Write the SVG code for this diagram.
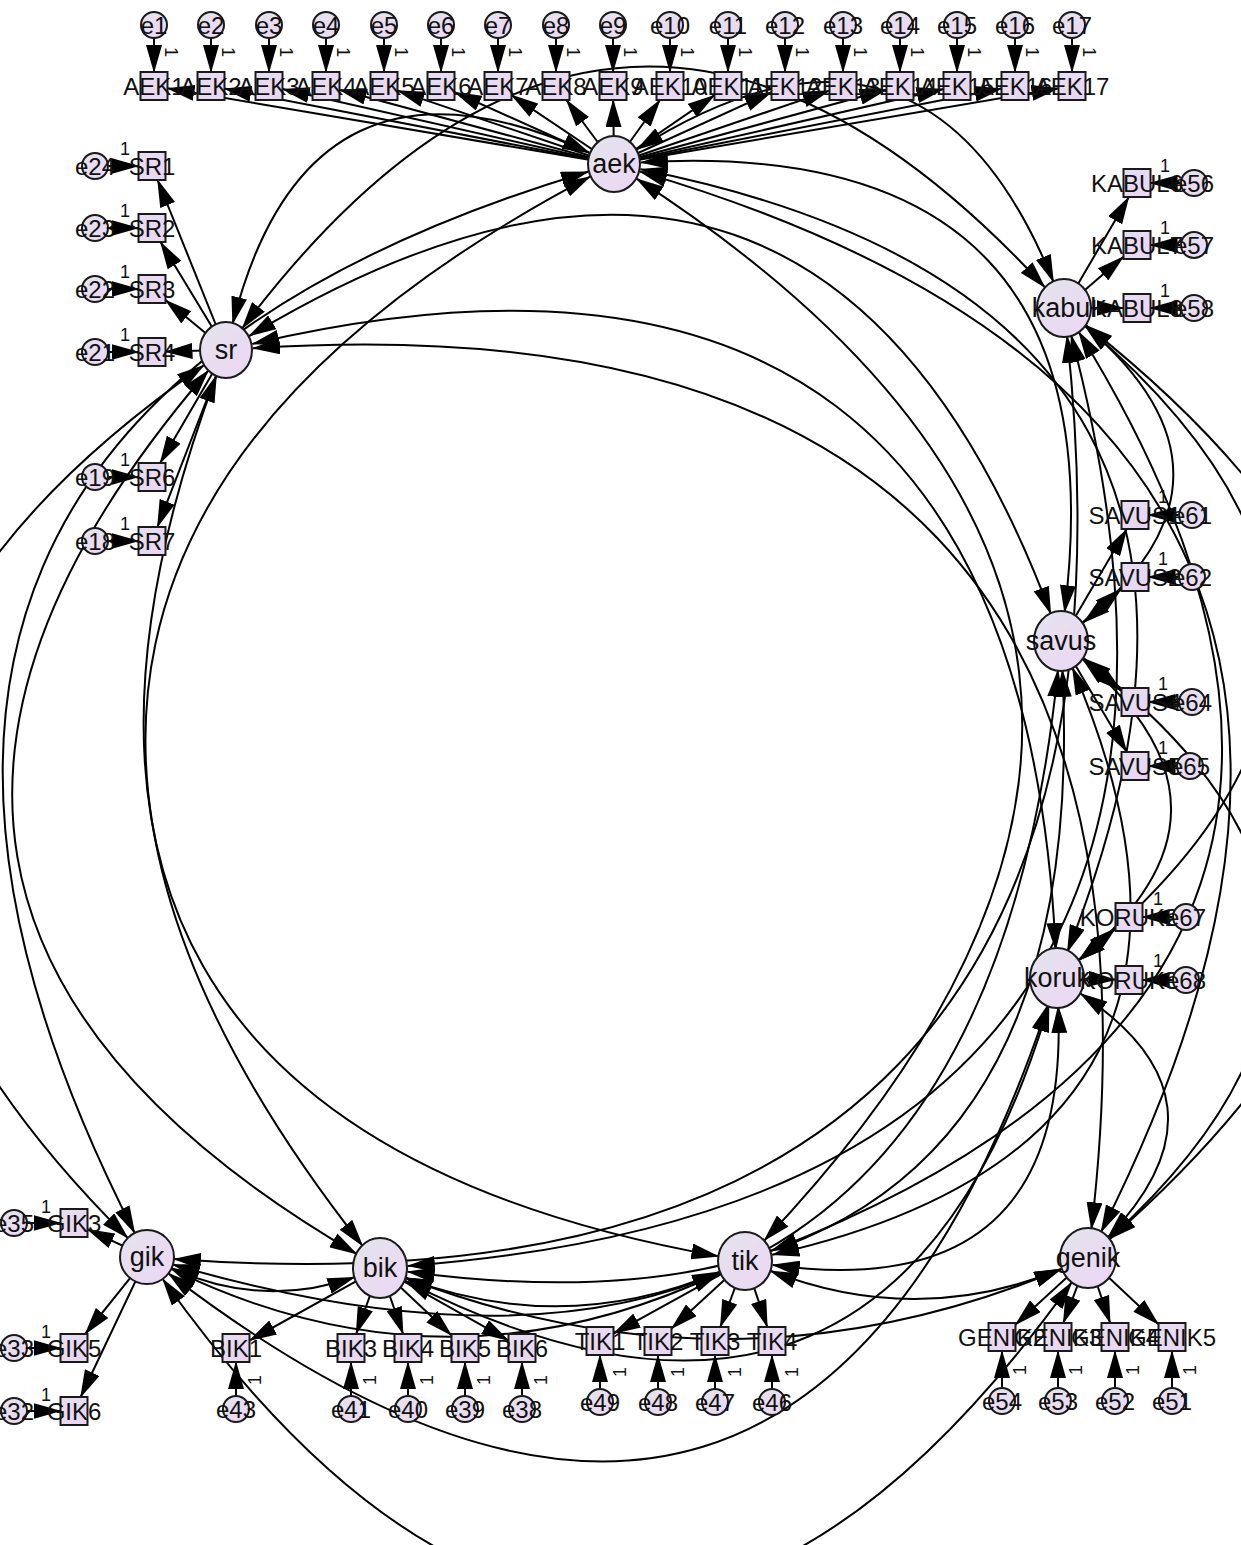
<svg xmlns="http://www.w3.org/2000/svg" width="1241" height="1545" viewBox="0 0 1241 1545">
<defs>
<linearGradient id="g" x1="0" y1="0" x2="1" y2="1"><stop offset="0" stop-color="#e4e4ec"/><stop offset="1" stop-color="#ecd6f4"/></linearGradient>
<linearGradient id="gb" x1="0" y1="0" x2="1" y2="1"><stop offset="0" stop-color="#e6dff0"/><stop offset="1" stop-color="#ead4f2"/></linearGradient>
<marker id="ah" viewBox="0 0 28 16" refX="27" refY="8" markerWidth="28" markerHeight="16" markerUnits="userSpaceOnUse" orient="auto-start-reverse"><path d="M0,0 L28,8 L0,16 z" fill="#000"/></marker>
<style>
.lat{fill:url(#g);stroke:#1a1a1a;stroke-width:2}
.box{fill:url(#gb);stroke:#1a1a1a;stroke-width:2}
.err{fill:url(#g);stroke:#1a1a1a;stroke-width:2}
text{font-family:"Liberation Sans",Arial,sans-serif;fill:#111;text-anchor:middle}
.t{font-size:24px;dominant-baseline:central}
.tl{font-size:27px;dominant-baseline:central}
.one{font-size:18px}
.onr{font-size:18px;dominant-baseline:central}
#connectors path,#connectors line{stroke:#000;stroke-width:2;fill:none}
.s{marker-end:url(#ah)}
.d{marker-start:url(#ah);marker-end:url(#ah)}
</style>
</defs>
<rect width="1241" height="1545" fill="#fff"/>
<g id="connectors">
<path class="d" d="M589.5,152.8 Q308.4,24.2 232.6,323.8"/>
<path class="d" d="M636.8,149.5 Q925.4,-34 1053.5,282"/>
<path class="d" d="M641,162.4 Q1123.7,134.3 1064.6,612.2"/>
<path class="d" d="M640.5,169.3 Q1323.9,305.2 1067.3,952"/>
<path class="d" d="M588.1,171.7 Q-275.3,430.3 134.7,1233"/>
<path class="d" d="M590.1,176.6 Q-165.4,575.6 362.7,1246"/>
<path class="d" d="M636.6,178.7 Q1337.7,633.9 764.2,1240.6"/>
<path class="d" d="M639.9,171.6 Q1507.4,426.6 1101,1232.1"/>
<path class="d" d="M242.2,328.4 Q619.8,-173.8 1045,287.4"/>
<path class="d" d="M249.1,336.1 Q818.1,-5.5 1050.8,613.9"/>
<path class="d" d="M252.3,343.9 Q1018.3,165.4 1055.7,950"/>
<path class="d" d="M203.8,365.4 Q-357.7,756.1 127.8,1238"/>
<path class="d" d="M208.4,370.5 Q-247.8,901.4 356.7,1253.9"/>
<path class="d" d="M216.5,375.3 Q-61.1,1116.9 718.4,1256.2"/>
<path class="d" d="M252.9,348.2 Q1201.8,286.8 1091.4,1229.2"/>
<path class="d" d="M1085.3,326.1 Q1262.3,476.3 1083.4,622.6"/>
<path class="d" d="M1085.3,326.1 Q1462.5,647.2 1078.7,960.3"/>
<path class="d" d="M1067,335.8 Q1174.9,1332.7 173.9,1259"/>
<path class="d" d="M1071.1,335.1 Q1298,1198.4 407.9,1265.9"/>
<path class="d" d="M1078.7,331.8 Q1476.3,975.9 771.1,1250.8"/>
<path class="d" d="M1086,325.4 Q1646,768.6 1109.8,1238.9"/>
<path class="d" d="M1083.1,659.8 Q1261.2,811.9 1078.7,960.3"/>
<path class="d" d="M1058,669.9 Q973.6,1497.4 172.9,1264.5"/>
<path class="d" d="M1062.4,670 Q1096.7,1363.1 407.7,1271.7"/>
<path class="d" d="M1072.4,667.7 Q1275,1140.6 772.3,1254.8"/>
<path class="d" d="M1084.1,658.6 Q1444.7,933.3 1109.5,1238.5"/>
<path class="d" d="M1048.1,1004.5 Q797.3,1754.5 168.4,1273.4"/>
<path class="d" d="M1049,1004.8 Q892.5,1529.2 404.9,1280.7"/>
<path class="d" d="M1058.2,1006 Q1070.8,1306.7 772.7,1264.9"/>
<path class="d" d="M1080.4,993.5 Q1240.5,1099.4 1108.1,1237.1"/>
<path class="d" d="M171.6,1268.2 Q261.3,1309.1 354.5,1277.2"/>
<path class="d" d="M171.3,1268.9 Q445,1402.5 719.6,1273"/>
<path class="d" d="M162.7,1279 Q616.8,1916.2 1071.7,1282.4"/>
<path class="d" d="M405.2,1277.9 Q563.9,1337.5 719.2,1271.9"/>
<path class="d" d="M405.2,1277.7 Q736,1404.6 1061.2,1269.1"/>
<path class="d" d="M770.2,1270.8 Q917.1,1328.1 1061.2,1269"/>
<line class="s" x1="614" y1="164" x2="167.5" y2="88.3"/>
<line class="s" x1="614" y1="164" x2="224.5" y2="88.6"/>
<line class="s" x1="614" y1="164" x2="282.5" y2="89.1"/>
<line class="s" x1="614" y1="164" x2="339.5" y2="89.7"/>
<line class="s" x1="614" y1="164" x2="397.5" y2="90.6"/>
<line class="s" x1="614" y1="164" x2="454.5" y2="92.1"/>
<line class="s" x1="614" y1="164" x2="511.5" y2="95.1"/>
<line class="s" x1="614" y1="164" x2="566.4" y2="100"/>
<line class="s" x1="614" y1="164" x2="613.2" y2="100"/>
<line class="s" x1="614" y1="164" x2="660" y2="100"/>
<line class="s" x1="614" y1="164" x2="714.5" y2="95.2"/>
<line class="s" x1="614" y1="164" x2="771.5" y2="92.2"/>
<line class="s" x1="614" y1="164" x2="829.5" y2="90.6"/>
<line class="s" x1="614" y1="164" x2="886.5" y2="89.7"/>
<line class="s" x1="614" y1="164" x2="943.5" y2="89.1"/>
<line class="s" x1="614" y1="164" x2="1001.5" y2="88.6"/>
<line class="s" x1="614" y1="164" x2="1058.5" y2="88.3"/>
<line class="s" x1="154" y1="25" x2="154" y2="72"/>
<line class="s" x1="211" y1="25" x2="211" y2="72"/>
<line class="s" x1="269" y1="25" x2="269" y2="72"/>
<line class="s" x1="326" y1="25" x2="326" y2="72"/>
<line class="s" x1="384" y1="25" x2="384" y2="72"/>
<line class="s" x1="441" y1="25" x2="441" y2="72"/>
<line class="s" x1="498" y1="25" x2="498" y2="72"/>
<line class="s" x1="556" y1="25" x2="556" y2="72"/>
<line class="s" x1="613" y1="25" x2="613" y2="72"/>
<line class="s" x1="670" y1="25" x2="670" y2="72"/>
<line class="s" x1="728" y1="25" x2="728" y2="72"/>
<line class="s" x1="785" y1="25" x2="785" y2="72"/>
<line class="s" x1="843" y1="25" x2="843" y2="72"/>
<line class="s" x1="900" y1="25" x2="900" y2="72"/>
<line class="s" x1="957" y1="25" x2="957" y2="72"/>
<line class="s" x1="1015" y1="25" x2="1015" y2="72"/>
<line class="s" x1="1072" y1="25" x2="1072" y2="72"/>
<line class="s" x1="226" y1="350" x2="157.6" y2="180"/>
<line class="s" x1="226" y1="350" x2="160.5" y2="242"/>
<line class="s" x1="226" y1="350" x2="165.5" y2="300.1"/>
<line class="s" x1="226" y1="350" x2="165.5" y2="351.6"/>
<line class="s" x1="226" y1="350" x2="160.2" y2="463"/>
<line class="s" x1="226" y1="350" x2="157.4" y2="527"/>
<line class="s" x1="95" y1="166" x2="138.5" y2="166"/>
<line class="s" x1="95" y1="228" x2="138.5" y2="228"/>
<line class="s" x1="95" y1="289" x2="138.5" y2="289"/>
<line class="s" x1="95" y1="352" x2="138.5" y2="352"/>
<line class="s" x1="95" y1="477" x2="138.5" y2="477"/>
<line class="s" x1="95" y1="541" x2="138.5" y2="541"/>
<line class="s" x1="1064" y1="308" x2="1128.8" y2="197"/>
<line class="s" x1="1064" y1="308" x2="1123.5" y2="256.7"/>
<line class="s" x1="1064" y1="308" x2="1123.5" y2="308"/>
<line class="s" x1="1194" y1="183" x2="1150.5" y2="183"/>
<line class="s" x1="1194" y1="245" x2="1150.5" y2="245"/>
<line class="s" x1="1194" y1="308" x2="1150.5" y2="308"/>
<line class="s" x1="1061" y1="641" x2="1126.8" y2="529"/>
<line class="s" x1="1061" y1="641" x2="1121.5" y2="588.7"/>
<line class="s" x1="1061" y1="641" x2="1121.5" y2="690.9"/>
<line class="s" x1="1061" y1="641" x2="1126.7" y2="752"/>
<line class="s" x1="1192" y1="515" x2="1148.5" y2="515"/>
<line class="s" x1="1192" y1="577" x2="1148.5" y2="577"/>
<line class="s" x1="1192" y1="702" x2="1148.5" y2="702"/>
<line class="s" x1="1190" y1="766" x2="1148.5" y2="766"/>
<line class="s" x1="1057" y1="978" x2="1115.5" y2="928.4"/>
<line class="s" x1="1057" y1="978" x2="1115.5" y2="979.6"/>
<line class="s" x1="1186" y1="917" x2="1142.5" y2="917"/>
<line class="s" x1="1186" y1="980" x2="1142.5" y2="980"/>
<line class="s" x1="147" y1="1257" x2="87.5" y2="1229.3"/>
<line class="s" x1="147" y1="1257" x2="85.2" y2="1334"/>
<line class="s" x1="147" y1="1257" x2="80.6" y2="1397"/>
<line class="s" x1="14" y1="1223" x2="60.5" y2="1223"/>
<line class="s" x1="14" y1="1348" x2="60.5" y2="1348"/>
<line class="s" x1="14" y1="1411" x2="60.5" y2="1411"/>
<line class="s" x1="380" y1="1268" x2="249.5" y2="1340.5"/>
<line class="s" x1="380" y1="1268" x2="356.1" y2="1334"/>
<line class="s" x1="380" y1="1268" x2="403.1" y2="1334"/>
<line class="s" x1="380" y1="1268" x2="451.5" y2="1335.3"/>
<line class="s" x1="380" y1="1268" x2="508.5" y2="1340.4"/>
<line class="s" x1="236" y1="1409" x2="236" y2="1362"/>
<line class="s" x1="351" y1="1409" x2="351" y2="1362"/>
<line class="s" x1="408" y1="1409" x2="408" y2="1362"/>
<line class="s" x1="465" y1="1409" x2="465" y2="1362"/>
<line class="s" x1="522" y1="1409" x2="522" y2="1362"/>
<line class="s" x1="745" y1="1261" x2="613.5" y2="1333.6"/>
<line class="s" x1="745" y1="1261" x2="671.5" y2="1328.6"/>
<line class="s" x1="745" y1="1261" x2="720.3" y2="1327"/>
<line class="s" x1="745" y1="1261" x2="767.3" y2="1327"/>
<line class="s" x1="600" y1="1402" x2="600" y2="1355"/>
<line class="s" x1="658" y1="1402" x2="658" y2="1355"/>
<line class="s" x1="715" y1="1402" x2="715" y2="1355"/>
<line class="s" x1="772" y1="1402" x2="772" y2="1355"/>
<line class="s" x1="1088" y1="1258" x2="1015.5" y2="1324.6"/>
<line class="s" x1="1088" y1="1258" x2="1063.3" y2="1323"/>
<line class="s" x1="1088" y1="1258" x2="1110.2" y2="1323"/>
<line class="s" x1="1088" y1="1258" x2="1158.5" y2="1324.3"/>
<line class="s" x1="1002" y1="1401" x2="1002" y2="1351"/>
<line class="s" x1="1058" y1="1401" x2="1058" y2="1351"/>
<line class="s" x1="1115" y1="1401" x2="1115" y2="1351"/>
<line class="s" x1="1172" y1="1401" x2="1172" y2="1351"/>
</g>
<g id="weights">
<text class="onr" transform="translate(171,52) rotate(90)">1</text>
<text class="onr" transform="translate(228,52) rotate(90)">1</text>
<text class="onr" transform="translate(286,52) rotate(90)">1</text>
<text class="onr" transform="translate(343,52) rotate(90)">1</text>
<text class="onr" transform="translate(401,52) rotate(90)">1</text>
<text class="onr" transform="translate(458,52) rotate(90)">1</text>
<text class="onr" transform="translate(515,52) rotate(90)">1</text>
<text class="onr" transform="translate(573,52) rotate(90)">1</text>
<text class="onr" transform="translate(630,52) rotate(90)">1</text>
<text class="onr" transform="translate(687,52) rotate(90)">1</text>
<text class="onr" transform="translate(745,52) rotate(90)">1</text>
<text class="onr" transform="translate(802,52) rotate(90)">1</text>
<text class="onr" transform="translate(860,52) rotate(90)">1</text>
<text class="onr" transform="translate(917,52) rotate(90)">1</text>
<text class="onr" transform="translate(974,52) rotate(90)">1</text>
<text class="onr" transform="translate(1032,52) rotate(90)">1</text>
<text class="onr" transform="translate(1089,52) rotate(90)">1</text>
<text class="one" x="125" y="155">1</text>
<text class="one" x="125" y="217">1</text>
<text class="one" x="125" y="278">1</text>
<text class="one" x="125" y="341">1</text>
<text class="one" x="125" y="466">1</text>
<text class="one" x="125" y="530">1</text>
<text class="one" x="1165" y="172">1</text>
<text class="one" x="1165" y="234">1</text>
<text class="one" x="1165" y="297">1</text>
<text class="one" x="1163" y="503">1</text>
<text class="one" x="1163" y="565">1</text>
<text class="one" x="1163" y="690">1</text>
<text class="one" x="1163" y="754">1</text>
<text class="one" x="1158" y="905">1</text>
<text class="one" x="1158" y="967">1</text>
<text class="one" x="46" y="1213">1</text>
<text class="one" x="46" y="1338">1</text>
<text class="one" x="46" y="1401">1</text>
<text class="onr" transform="translate(255,1380) rotate(-90)">1</text>
<text class="onr" transform="translate(370,1380) rotate(-90)">1</text>
<text class="onr" transform="translate(427,1380) rotate(-90)">1</text>
<text class="onr" transform="translate(484,1380) rotate(-90)">1</text>
<text class="onr" transform="translate(541,1380) rotate(-90)">1</text>
<text class="onr" transform="translate(620,1372) rotate(-90)">1</text>
<text class="onr" transform="translate(678,1372) rotate(-90)">1</text>
<text class="onr" transform="translate(735,1372) rotate(-90)">1</text>
<text class="onr" transform="translate(792,1372) rotate(-90)">1</text>
<text class="onr" transform="translate(1020,1370) rotate(-90)">1</text>
<text class="onr" transform="translate(1076,1370) rotate(-90)">1</text>
<text class="onr" transform="translate(1133,1370) rotate(-90)">1</text>
<text class="onr" transform="translate(1190,1370) rotate(-90)">1</text>
</g>
<g id="aek"><ellipse class="lat" cx="614" cy="164" rx="26" ry="28"/><text class="tl" x="614" y="164">aek</text></g>
<g id="sr"><ellipse class="lat" cx="226" cy="350" rx="26" ry="28"/><text class="tl" x="226" y="350">sr</text></g>
<g id="kabul"><ellipse class="lat" cx="1064" cy="308" rx="27" ry="29"/><text class="tl" x="1064" y="308">kabul</text></g>
<g id="savus"><ellipse class="lat" cx="1061" cy="641" rx="27" ry="30"/><text class="tl" x="1061" y="641">savus</text></g>
<g id="koruk"><ellipse class="lat" cx="1057" cy="978" rx="27" ry="30"/><text class="tl" x="1057" y="978">koruk</text></g>
<g id="gik"><ellipse class="lat" cx="147" cy="1257" rx="27" ry="27"/><text class="tl" x="147" y="1257">gik</text></g>
<g id="bik"><ellipse class="lat" cx="380" cy="1268" rx="27" ry="30"/><text class="tl" x="380" y="1268">bik</text></g>
<g id="tik"><ellipse class="lat" cx="745" cy="1261" rx="27" ry="29"/><text class="tl" x="745" y="1261">tik</text></g>
<g id="genik"><ellipse class="lat" cx="1088" cy="1258" rx="28" ry="30"/><text class="tl" x="1088" y="1258">genik</text></g>
<g id="AEK1"><rect class="box" x="140.5" y="72" width="27" height="28"/><text class="t" x="154" y="86">AEK1</text></g>
<g id="AEK2"><rect class="box" x="197.5" y="72" width="27" height="28"/><text class="t" x="211" y="86">AEK2</text></g>
<g id="AEK3"><rect class="box" x="255.5" y="72" width="27" height="28"/><text class="t" x="269" y="86">AEK3</text></g>
<g id="AEK4"><rect class="box" x="312.5" y="72" width="27" height="28"/><text class="t" x="326" y="86">AEK4</text></g>
<g id="AEK5"><rect class="box" x="370.5" y="72" width="27" height="28"/><text class="t" x="384" y="86">AEK5</text></g>
<g id="AEK6"><rect class="box" x="427.5" y="72" width="27" height="28"/><text class="t" x="441" y="86">AEK6</text></g>
<g id="AEK7"><rect class="box" x="484.5" y="72" width="27" height="28"/><text class="t" x="498" y="86">AEK7</text></g>
<g id="AEK8"><rect class="box" x="542.5" y="72" width="27" height="28"/><text class="t" x="556" y="86">AEK8</text></g>
<g id="AEK9"><rect class="box" x="599.5" y="72" width="27" height="28"/><text class="t" x="613" y="86">AEK9</text></g>
<g id="AEK10"><rect class="box" x="656.5" y="72" width="27" height="28"/><text class="t" x="670" y="86">AEK10</text></g>
<g id="AEK11"><rect class="box" x="714.5" y="72" width="27" height="28"/><text class="t" x="728" y="86">AEK11</text></g>
<g id="AEK12"><rect class="box" x="771.5" y="72" width="27" height="28"/><text class="t" x="785" y="86">AEK12</text></g>
<g id="AEK13"><rect class="box" x="829.5" y="72" width="27" height="28"/><text class="t" x="843" y="86">AEK13</text></g>
<g id="AEK14"><rect class="box" x="886.5" y="72" width="27" height="28"/><text class="t" x="900" y="86">AEK14</text></g>
<g id="AEK15"><rect class="box" x="943.5" y="72" width="27" height="28"/><text class="t" x="957" y="86">AEK15</text></g>
<g id="AEK16"><rect class="box" x="1001.5" y="72" width="27" height="28"/><text class="t" x="1015" y="86">AEK16</text></g>
<g id="AEK17"><rect class="box" x="1058.5" y="72" width="27" height="28"/><text class="t" x="1072" y="86">AEK17</text></g>
<g id="SR1"><rect class="box" x="138.5" y="152" width="27" height="28"/><text class="t" x="152" y="166">SR1</text></g>
<g id="SR2"><rect class="box" x="138.5" y="214" width="27" height="28"/><text class="t" x="152" y="228">SR2</text></g>
<g id="SR3"><rect class="box" x="138.5" y="275" width="27" height="28"/><text class="t" x="152" y="289">SR3</text></g>
<g id="SR4"><rect class="box" x="138.5" y="338" width="27" height="28"/><text class="t" x="152" y="352">SR4</text></g>
<g id="SR6"><rect class="box" x="138.5" y="463" width="27" height="28"/><text class="t" x="152" y="477">SR6</text></g>
<g id="SR7"><rect class="box" x="138.5" y="527" width="27" height="28"/><text class="t" x="152" y="541">SR7</text></g>
<g id="KABUL6"><rect class="box" x="1123.5" y="169" width="27" height="28"/><text class="t" x="1137" y="183">KABUL6</text></g>
<g id="KABUL7"><rect class="box" x="1123.5" y="231" width="27" height="28"/><text class="t" x="1137" y="245">KABUL7</text></g>
<g id="KABUL8"><rect class="box" x="1123.5" y="294" width="27" height="28"/><text class="t" x="1137" y="308">KABUL8</text></g>
<g id="SAVUS1"><rect class="box" x="1121.5" y="501" width="27" height="28"/><text class="t" x="1135" y="515">SAVUS1</text></g>
<g id="SAVUS2"><rect class="box" x="1121.5" y="563" width="27" height="28"/><text class="t" x="1135" y="577">SAVUS2</text></g>
<g id="SAVUS4"><rect class="box" x="1121.5" y="688" width="27" height="28"/><text class="t" x="1135" y="702">SAVUS4</text></g>
<g id="SAVUS5"><rect class="box" x="1121.5" y="752" width="27" height="28"/><text class="t" x="1135" y="766">SAVUS5</text></g>
<g id="KORUK2"><rect class="box" x="1115.5" y="903" width="27" height="28"/><text class="t" x="1129" y="917">KORUK2</text></g>
<g id="KORUK3"><rect class="box" x="1115.5" y="966" width="27" height="28"/><text class="t" x="1129" y="980">KORUK3</text></g>
<g id="GIK3"><rect class="box" x="60.5" y="1209" width="27" height="28"/><text class="t" x="74" y="1223">GIK3</text></g>
<g id="GIK5"><rect class="box" x="60.5" y="1334" width="27" height="28"/><text class="t" x="74" y="1348">GIK5</text></g>
<g id="GIK6"><rect class="box" x="60.5" y="1397" width="27" height="28"/><text class="t" x="74" y="1411">GIK6</text></g>
<g id="BIK1"><rect class="box" x="222.5" y="1334" width="27" height="28"/><text class="t" x="236" y="1348">BIK1</text></g>
<g id="BIK3"><rect class="box" x="337.5" y="1334" width="27" height="28"/><text class="t" x="351" y="1348">BIK3</text></g>
<g id="BIK4"><rect class="box" x="394.5" y="1334" width="27" height="28"/><text class="t" x="408" y="1348">BIK4</text></g>
<g id="BIK5"><rect class="box" x="451.5" y="1334" width="27" height="28"/><text class="t" x="465" y="1348">BIK5</text></g>
<g id="BIK6"><rect class="box" x="508.5" y="1334" width="27" height="28"/><text class="t" x="522" y="1348">BIK6</text></g>
<g id="TIK1"><rect class="box" x="586.5" y="1327" width="27" height="28"/><text class="t" x="600" y="1341">TIK1</text></g>
<g id="TIK2"><rect class="box" x="644.5" y="1327" width="27" height="28"/><text class="t" x="658" y="1341">TIK2</text></g>
<g id="TIK3"><rect class="box" x="701.5" y="1327" width="27" height="28"/><text class="t" x="715" y="1341">TIK3</text></g>
<g id="TIK4"><rect class="box" x="758.5" y="1327" width="27" height="28"/><text class="t" x="772" y="1341">TIK4</text></g>
<g id="GENIK2"><rect class="box" x="988.5" y="1323" width="27" height="28"/><text class="t" x="1002" y="1337">GENIK2</text></g>
<g id="GENIK3"><rect class="box" x="1044.5" y="1323" width="27" height="28"/><text class="t" x="1058" y="1337">GENIK3</text></g>
<g id="GENIK4"><rect class="box" x="1101.5" y="1323" width="27" height="28"/><text class="t" x="1115" y="1337">GENIK4</text></g>
<g id="GENIK5"><rect class="box" x="1158.5" y="1323" width="27" height="28"/><text class="t" x="1172" y="1337">GENIK5</text></g>
<g id="e1"><circle class="err" cx="154" cy="25" r="13"/><text class="t" x="154" y="25">e1</text></g>
<g id="e2"><circle class="err" cx="211" cy="25" r="13"/><text class="t" x="211" y="25">e2</text></g>
<g id="e3"><circle class="err" cx="269" cy="25" r="13"/><text class="t" x="269" y="25">e3</text></g>
<g id="e4"><circle class="err" cx="326" cy="25" r="13"/><text class="t" x="326" y="25">e4</text></g>
<g id="e5"><circle class="err" cx="384" cy="25" r="13"/><text class="t" x="384" y="25">e5</text></g>
<g id="e6"><circle class="err" cx="441" cy="25" r="13"/><text class="t" x="441" y="25">e6</text></g>
<g id="e7"><circle class="err" cx="498" cy="25" r="13"/><text class="t" x="498" y="25">e7</text></g>
<g id="e8"><circle class="err" cx="556" cy="25" r="13"/><text class="t" x="556" y="25">e8</text></g>
<g id="e9"><circle class="err" cx="613" cy="25" r="13"/><text class="t" x="613" y="25">e9</text></g>
<g id="e10"><circle class="err" cx="670" cy="25" r="13"/><text class="t" x="670" y="25">e10</text></g>
<g id="e11"><circle class="err" cx="728" cy="25" r="13"/><text class="t" x="728" y="25">e11</text></g>
<g id="e12"><circle class="err" cx="785" cy="25" r="13"/><text class="t" x="785" y="25">e12</text></g>
<g id="e13"><circle class="err" cx="843" cy="25" r="13"/><text class="t" x="843" y="25">e13</text></g>
<g id="e14"><circle class="err" cx="900" cy="25" r="13"/><text class="t" x="900" y="25">e14</text></g>
<g id="e15"><circle class="err" cx="957" cy="25" r="13"/><text class="t" x="957" y="25">e15</text></g>
<g id="e16"><circle class="err" cx="1015" cy="25" r="13"/><text class="t" x="1015" y="25">e16</text></g>
<g id="e17"><circle class="err" cx="1072" cy="25" r="13"/><text class="t" x="1072" y="25">e17</text></g>
<g id="e24"><circle class="err" cx="95" cy="166" r="13"/><text class="t" x="95" y="166">e24</text></g>
<g id="e23"><circle class="err" cx="95" cy="228" r="13"/><text class="t" x="95" y="228">e23</text></g>
<g id="e22"><circle class="err" cx="95" cy="289" r="13"/><text class="t" x="95" y="289">e22</text></g>
<g id="e21"><circle class="err" cx="95" cy="352" r="13"/><text class="t" x="95" y="352">e21</text></g>
<g id="e19"><circle class="err" cx="95" cy="477" r="13"/><text class="t" x="95" y="477">e19</text></g>
<g id="e18"><circle class="err" cx="95" cy="541" r="13"/><text class="t" x="95" y="541">e18</text></g>
<g id="e56"><circle class="err" cx="1194" cy="183" r="13"/><text class="t" x="1194" y="183">e56</text></g>
<g id="e57"><circle class="err" cx="1194" cy="245" r="13"/><text class="t" x="1194" y="245">e57</text></g>
<g id="e58"><circle class="err" cx="1194" cy="308" r="13"/><text class="t" x="1194" y="308">e58</text></g>
<g id="e61"><circle class="err" cx="1192" cy="515" r="13"/><text class="t" x="1192" y="515">e61</text></g>
<g id="e62"><circle class="err" cx="1192" cy="577" r="13"/><text class="t" x="1192" y="577">e62</text></g>
<g id="e64"><circle class="err" cx="1192" cy="702" r="13"/><text class="t" x="1192" y="702">e64</text></g>
<g id="e65"><circle class="err" cx="1190" cy="766" r="13"/><text class="t" x="1190" y="766">e65</text></g>
<g id="e67"><circle class="err" cx="1186" cy="917" r="13"/><text class="t" x="1186" y="917">e67</text></g>
<g id="e68"><circle class="err" cx="1186" cy="980" r="13"/><text class="t" x="1186" y="980">e68</text></g>
<g id="e35"><circle class="err" cx="14" cy="1223" r="13"/><text class="t" x="14" y="1223">e35</text></g>
<g id="e33"><circle class="err" cx="14" cy="1348" r="13"/><text class="t" x="14" y="1348">e33</text></g>
<g id="e32"><circle class="err" cx="14" cy="1411" r="13"/><text class="t" x="14" y="1411">e32</text></g>
<g id="e43"><circle class="err" cx="236" cy="1409" r="13"/><text class="t" x="236" y="1409">e43</text></g>
<g id="e41"><circle class="err" cx="351" cy="1409" r="13"/><text class="t" x="351" y="1409">e41</text></g>
<g id="e40"><circle class="err" cx="408" cy="1409" r="13"/><text class="t" x="408" y="1409">e40</text></g>
<g id="e39"><circle class="err" cx="465" cy="1409" r="13"/><text class="t" x="465" y="1409">e39</text></g>
<g id="e38"><circle class="err" cx="522" cy="1409" r="13"/><text class="t" x="522" y="1409">e38</text></g>
<g id="e49"><circle class="err" cx="600" cy="1402" r="13"/><text class="t" x="600" y="1402">e49</text></g>
<g id="e48"><circle class="err" cx="658" cy="1402" r="13"/><text class="t" x="658" y="1402">e48</text></g>
<g id="e47"><circle class="err" cx="715" cy="1402" r="13"/><text class="t" x="715" y="1402">e47</text></g>
<g id="e46"><circle class="err" cx="772" cy="1402" r="13"/><text class="t" x="772" y="1402">e46</text></g>
<g id="e54"><circle class="err" cx="1002" cy="1401" r="13"/><text class="t" x="1002" y="1401">e54</text></g>
<g id="e53"><circle class="err" cx="1058" cy="1401" r="13"/><text class="t" x="1058" y="1401">e53</text></g>
<g id="e52"><circle class="err" cx="1115" cy="1401" r="13"/><text class="t" x="1115" y="1401">e52</text></g>
<g id="e51"><circle class="err" cx="1172" cy="1401" r="13"/><text class="t" x="1172" y="1401">e51</text></g>
</svg>
